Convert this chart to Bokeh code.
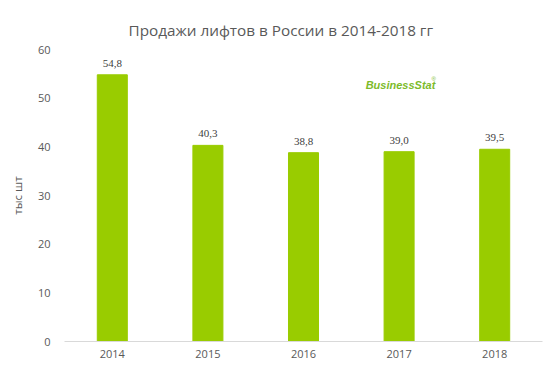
from bokeh.plotting import figure
from bokeh.models import ColumnDataSource, FactorRange, Range1d, Label, LabelSet
from bokeh.embed import file_html
from bokeh.resources import INLINE

years = ["2014", "2015", "2016", "2017", "2018"]
sales = [54.8, 40.3, 38.8, 39.0, 39.5]
labels = [f"{v:.1f}".replace(".", ",") for v in sales]
y_ticks = [0, 10, 20, 30, 40, 50, 60]

src = ColumnDataSource(dict(x=years, y=sales, lab=labels))

p = figure(width=556, height=372, x_range=FactorRange(*years, range_padding=0),
           y_range=Range1d(0, 60), output_backend="svg", toolbar_location=None,
           min_border_left=64, min_border_right=14, min_border_top=49, min_border_bottom=31)

p.title.text = "Продажи лифтов в России в 2014-2018 гг"
p.title.align = "left"
p.title.offset = 64
p.title.standoff = 19
p.title.text_font = "Open Sans"
p.title.text_font_size = "15.3px"
p.title.text_font_style = "normal"
p.title.text_color = "#595959"

p.vbar(x="x", top="y", width=0.314, source=src, color="#99CC00")

p.add_layout(LabelSet(x="x", y="y", text="lab", source=src, text_align="center",
                      text_baseline="bottom", y_offset=8, text_font_size="11px",
                      text_font="Open Sans", text_color="#404040"))

p.grid.visible = False
p.outline_line_color = None

p.yaxis.ticker = y_ticks
p.yaxis.axis_line_color = None
p.yaxis.major_tick_line_color = None
p.yaxis.major_tick_out = 0
p.yaxis.major_tick_in = 0
p.yaxis.minor_tick_line_color = None
p.yaxis.major_label_text_font = "Open Sans"
p.yaxis.major_label_text_font_size = "11px"
p.yaxis.major_label_text_color = "#595959"
p.yaxis.major_label_standoff = 14
p.yaxis.axis_label = "тыс шт"
p.yaxis.axis_label_text_font = "Open Sans"
p.yaxis.axis_label_text_font_size = "11.5px"
p.yaxis.axis_label_text_font_style = "normal"
p.yaxis.axis_label_text_color = "#595959"
p.yaxis.axis_label_standoff = 10

p.xaxis.axis_line_color = "#d9d9d9"
p.xaxis.major_tick_line_color = None
p.xaxis.major_tick_out = 0
p.xaxis.major_tick_in = 0
p.xaxis.minor_tick_line_color = None
p.xaxis.major_label_text_font = "Open Sans"
p.xaxis.major_label_text_font_size = "11px"
p.xaxis.major_label_text_color = "#595959"
p.xaxis.major_label_standoff = 8

# BusinessStat logo (decorative)
p.add_layout(Label(x=3.15, y=52.8, text="BusinessStat", text_font="Liberation Sans",
                   text_font_style="bold italic", text_font_size="11px",
                   text_color="#7DBB2A", text_baseline="middle"))
p.add_layout(Label(x=3.84, y=53.9, text="®", text_font="Liberation Sans",
                   text_font_size="6px", text_color="#7DBB2A", text_baseline="middle"))

open("out.html", "w").write(file_html(p, INLINE))
